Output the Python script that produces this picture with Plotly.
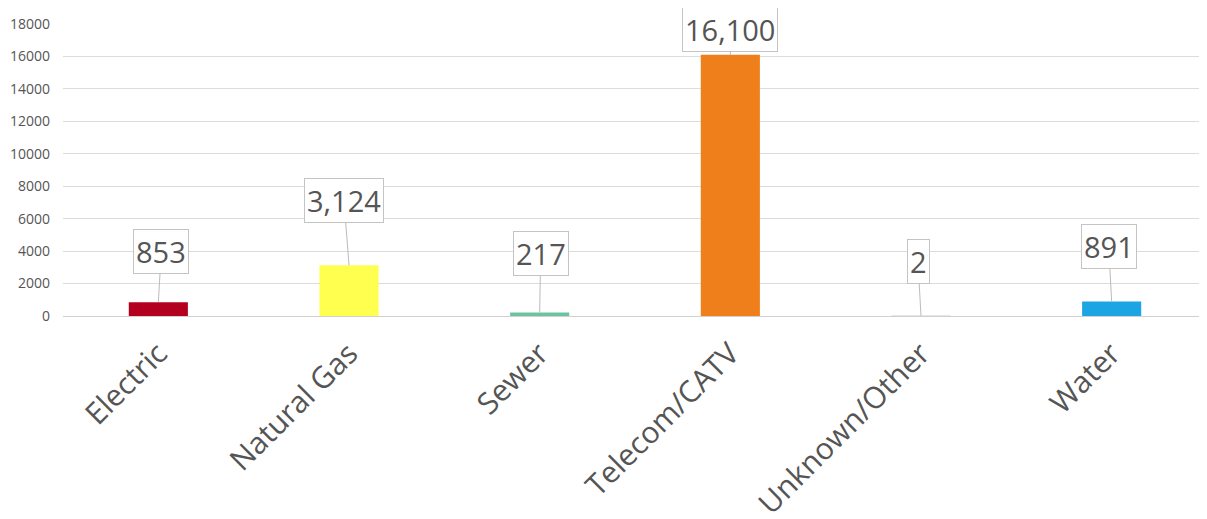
import plotly.graph_objects as go

categories = ["Electric", "Natural Gas", "Sewer", "Telecom/CATV", "Unknown/Other", "Water"]
values = [853, 3124, 217, 16100, 2, 891]
bar_colors = ["#b3001e", "#ffff4f", "#6cc3a0", "#ee7f1b", "#e6e6e6", "#1ba5e2"]
y_ticks = [0, 2000, 4000, 6000, 8000, 10000, 12000, 14000, 16000, 18000]

# callout box offsets (pixels) relative to the bar top
offsets = [(3, -51), (-5, -65), (1, -59), (0, -25), (-3, -54), (-3, -55)]

fig = go.Figure(
    go.Bar(
        x=categories,
        y=values,
        marker=dict(color=bar_colors, line=dict(width=0)),
        hoverinfo="x+y",
    )
)

annotations = []
for cat, val, (ax, ay) in zip(categories, values, offsets):
    annotations.append(
        dict(
            x=cat,
            y=val,
            xref="x",
            yref="y",
            text=f"{val:,}",
            showarrow=True,
            arrowhead=0,
            arrowwidth=1,
            arrowcolor="#bbbbbb",
            ax=ax,
            ay=ay,
            font=dict(family="Open Sans", size=29, color="#555555"),
            bgcolor="#ffffff",
            bordercolor="#c4c4c4",
            borderwidth=1,
            borderpad=2,
        )
    )

fig.update_layout(
    width=1207,
    height=519,
    margin=dict(l=55, r=8, t=16, b=211),
    plot_bgcolor="#ffffff",
    paper_bgcolor="#ffffff",
    bargap=0.69,
    showlegend=False,
    annotations=annotations,
    xaxis=dict(
        automargin=False,
        tickangle=-45,
        tickfont=dict(family="Open Sans", size=30, color="#555555"),
        showgrid=False,
        showline=False,
        ticks="",
        ticklabelstandoff=13,
    ),
    yaxis=dict(
        automargin=False,
        range=[0, 18000],
        tickvals=y_ticks,
        ticktext=[str(v) for v in y_ticks],
        tickfont=dict(family="Open Sans", size=14, color="#555555"),
        showgrid=True,
        gridcolor="#dcdcdc",
        gridwidth=1,
        zeroline=True,
        zerolinecolor="#d0d0d0",
        zerolinewidth=1,
        ticklabelstandoff=12,
    ),
)

fig.write_html("out.html")
